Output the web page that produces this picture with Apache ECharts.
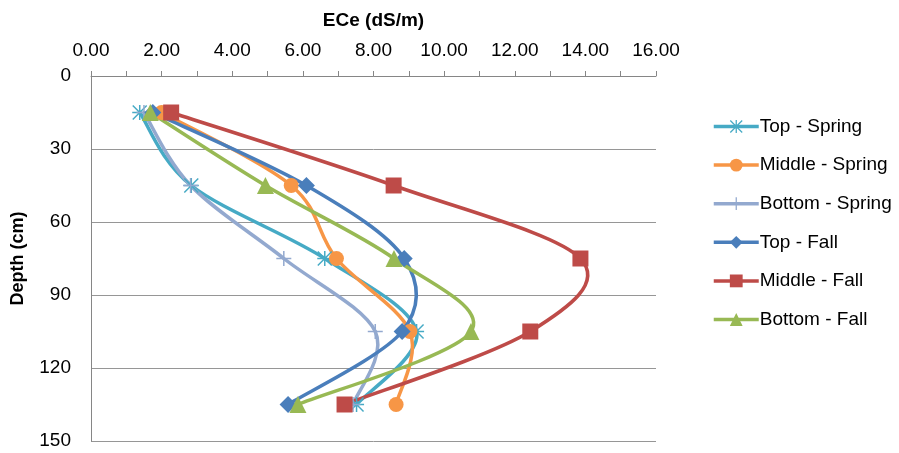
<!DOCTYPE html>
<html>
<head>
<meta charset="utf-8">
<script src="https://cdn.jsdelivr.net/npm/echarts@6/dist/echarts.min.js"></script>
<style>
  html, body { margin: 0; padding: 0; background: #fff; }
  #chart { width: 899px; height: 453px; }
</style>
</head>
<body>
<div id="chart"></div>
<script>
// Sampling depths (cm) and soil salinity ECe (dS/m) per profile position and season
const depths = [15, 45, 75, 105, 135];
const topSpring    = [1.38, 2.84, 6.62, 9.22, 7.52];
const middleSpring = [2.00, 5.67, 6.95, 9.03, 8.64];
const bottomSpring = [1.50, 2.82, 5.46, 8.05, 7.42];
const topFall      = [1.75, 6.10, 8.87, 8.81, 5.58];
const middleFall   = [2.27, 8.57, 13.86, 12.44, 7.18];
const bottomFall   = [1.68, 4.94, 8.58, 10.76, 5.86];

const seriesNames = ['Top - Spring', 'Middle - Spring', 'Bottom - Spring', 'Top - Fall', 'Middle - Fall', 'Bottom - Fall'];
const seriesValues = [topSpring, middleSpring, bottomSpring, topFall, middleFall, bottomFall];
const seriesColors = ['#46AAC5', '#F79646', '#93A9CF', '#4A7EBB', '#BE4B48', '#98B954'];

const xTicks = { min: 0, max: 16, interval: 2 };
const yTicks = { min: 0, max: 150, interval: 30 };

// Marker shapes: asterisk and plus are drawn as filled bar paths
const asterisk = 'path://M9 0H11V20H9Z M0 9H20V11H0Z M1.4 0L20 18.6L18.6 20L0 1.4Z M18.6 0L20 1.4L1.4 20L0 18.6Z';
const plus = 'path://M9 0H11V20H9Z M0 9H20V11H0Z';
const symbols = [asterisk, 'circle', plus, 'diamond', 'rect', 'triangle'];
const symbolSizes = [15, 15, 15, 17, 16, 17];

const font = 'Liberation Sans';
const LINE_WIDTH = 3.5;

// Smoothed profile curve: cubic Bezier segments through the data points,
// control points taken from the neighbouring points (Catmull-Rom style).
function smoothCurve(color) {
  return function (params, api) {
    if (params.dataIndexInside !== 0) return null;
    const n = params.dataInsideLength;
    const p = [];
    for (let i = 0; i < n; i++) {
      p.push(api.coord([api.value(0, i), api.value(1, i)]));
    }
    const k = 1 / 6;
    const segs = [];
    for (let i = 0; i < n - 1; i++) {
      const p0 = p[Math.max(i - 1, 0)];
      const p1 = p[i];
      const p2 = p[i + 1];
      const p3 = p[Math.min(i + 2, n - 1)];
      segs.push({
        type: 'bezierCurve',
        shape: {
          x1: p1[0], y1: p1[1],
          cpx1: p1[0] + (p2[0] - p0[0]) * k, cpy1: p1[1] + (p2[1] - p0[1]) * k,
          cpx2: p2[0] - (p3[0] - p1[0]) * k, cpy2: p2[1] - (p3[1] - p1[1]) * k,
          x2: p2[0], y2: p2[1]
        },
        style: { stroke: color, lineWidth: LINE_WIDTH, fill: null, lineCap: 'round', lineJoin: 'round' },
        silent: true
      });
    }
    return { type: 'group', children: segs };
  };
}

const series = [];
seriesNames.forEach((name, i) => {
  const pts = seriesValues[i].map((v, k) => [v, depths[k]]);
  series.push({
    name: name + ' curve',
    type: 'custom',
    renderItem: smoothCurve(seriesColors[i]),
    encode: { x: 0, y: 1 },
    silent: true,
    data: pts
  });
  series.push({
    name: name,
    type: 'line',
    symbol: symbols[i],
    symbolSize: symbolSizes[i],
    showAllSymbol: true,
    color: seriesColors[i],
    lineStyle: { width: LINE_WIDTH, color: seriesColors[i], opacity: 0 },
    itemStyle: { color: seriesColors[i], borderWidth: 0 },
    data: pts
  });
});

const chart = echarts.init(document.getElementById('chart'), null, { renderer: 'canvas' });

chart.setOption({
  animation: false,
  backgroundColor: '#ffffff',
  grid: { left: 91, right: 243, top: 76, bottom: 12, containLabel: false },
  legend: {
    orient: 'vertical',
    left: 712,
    top: 117,
    padding: 0,
    itemWidth: 45,
    itemHeight: 16,
    itemGap: 19.6,
    lineStyle: { width: LINE_WIDTH, opacity: 1 },
    textStyle: { fontFamily: font, fontSize: 19, color: '#000', padding: [0, 0, 0, -4] },
    data: seriesNames
  },
  xAxis: {
    type: 'value',
    position: 'top',
    min: xTicks.min,
    max: xTicks.max,
    interval: xTicks.interval,
    name: 'ECe (dS/m)',
    nameLocation: 'middle',
    nameGap: 46,
    nameTextStyle: { fontFamily: font, fontSize: 19, fontWeight: 'bold', color: '#000' },
    axisLine: { show: true, lineStyle: { color: '#868686', width: 1 } },
    axisTick: { show: true, inside: false, length: 5, lineStyle: { color: '#868686' } },
    minorTick: { show: true, splitNumber: 2, length: 5, lineStyle: { color: '#868686' } },
    axisLabel: {
      fontFamily: font, fontSize: 19, color: '#000', margin: 16,
      formatter: v => v.toFixed(2)
    },
    splitLine: { show: false }
  },
  yAxis: {
    type: 'value',
    inverse: true,
    min: yTicks.min,
    max: yTicks.max,
    interval: yTicks.interval,
    name: 'Depth (cm)',
    nameLocation: 'middle',
    nameGap: 64,
    nameTextStyle: { fontFamily: font, fontSize: 18, fontWeight: 'bold', color: '#000' },
    axisLine: { show: true, lineStyle: { color: '#868686', width: 1 } },
    axisTick: { show: false },
    axisLabel: { fontFamily: font, fontSize: 19, color: '#000', margin: 20, padding: [4, 0, 0, 0] },
    splitLine: { show: true, lineStyle: { color: '#969696', width: 1 } }
  },
  series: series
});
</script>
</body>
</html>
